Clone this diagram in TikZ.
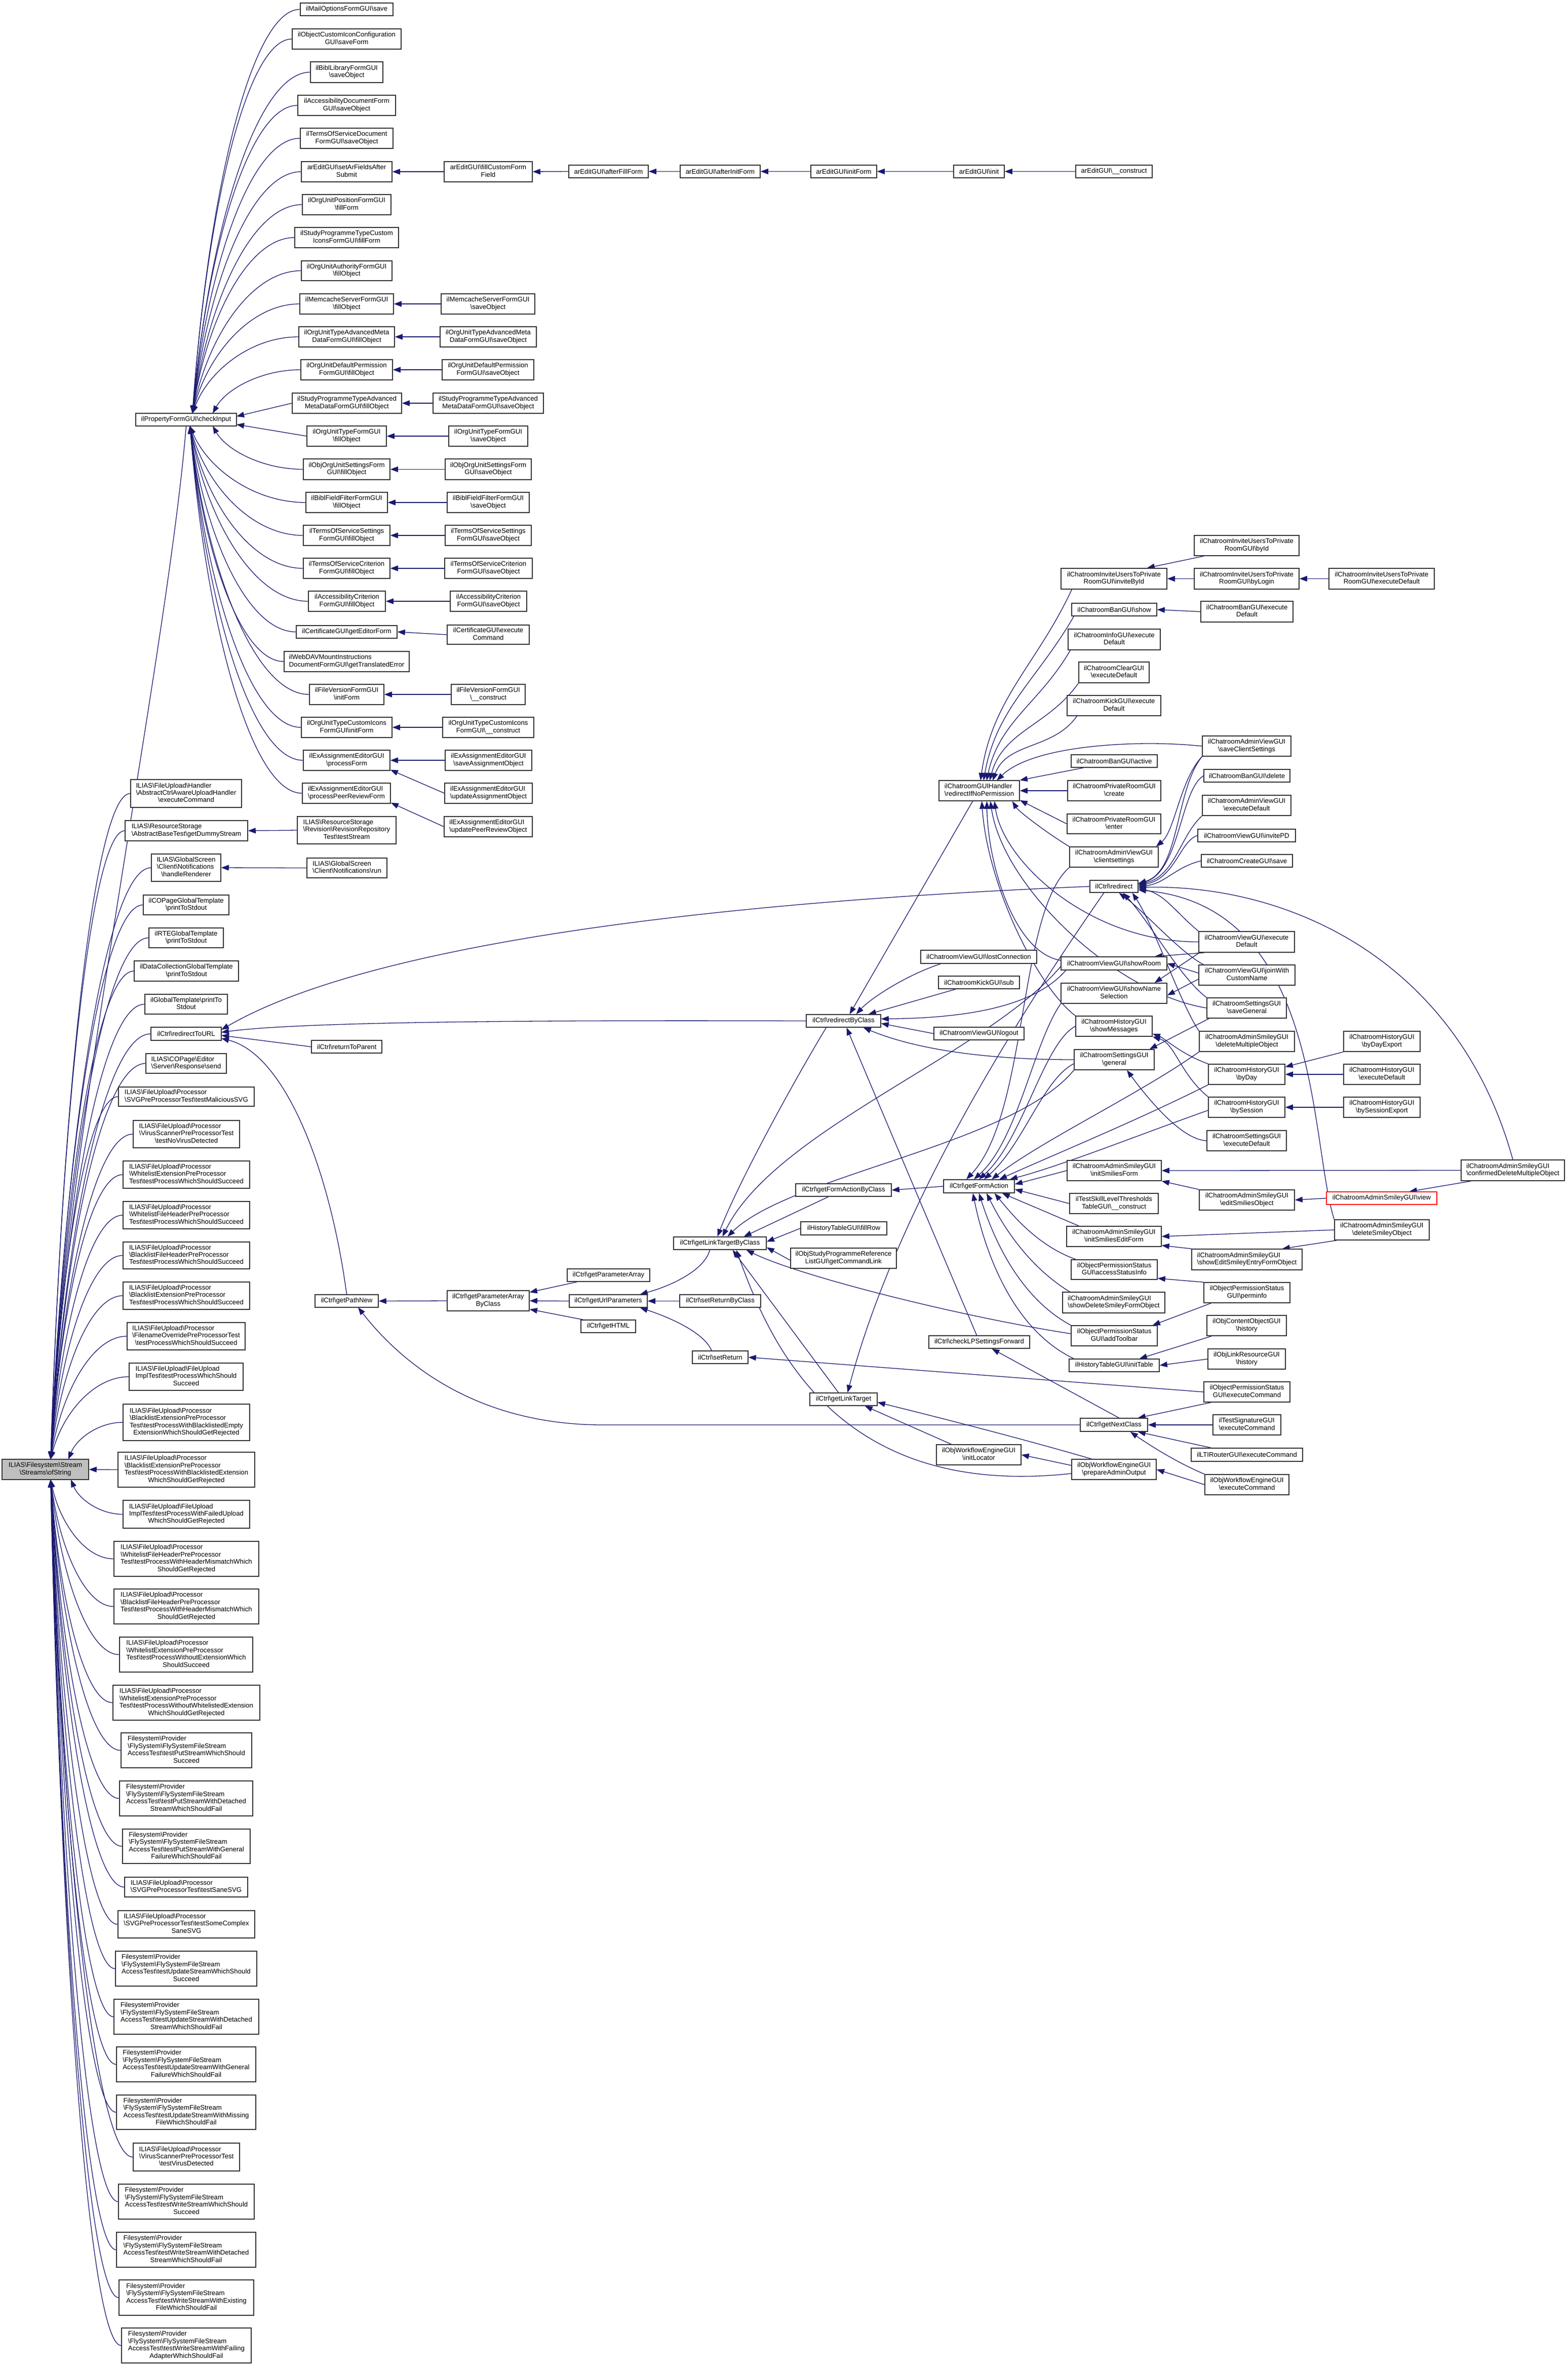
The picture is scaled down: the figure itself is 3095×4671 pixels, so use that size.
\documentclass[tikz,border=0pt]{standalone}
\usepackage{fontspec}
\setmainfont{Liberation Sans}
\usetikzlibrary{arrows.meta,calc}
\pgfdeclarelayer{bg}
\pgfsetlayers{bg,main}
\definecolor{navy}{RGB}{25,25,112}
\newcommand\bk{\textbackslash}
\newcommand\Ml[2]{\begin{tabular}{@{}l@{}}#1\\\multicolumn{1}{@{}c@{}}{#2}\end{tabular}}
\newcommand\Nd[7][]{\node[box,#1,minimum width={(#5-#3)*1pt},minimum height={(#6-#4)*1pt}] (#2) at ({(#3+#5)/2},{(#4+#6)/2}) {#7};}
\newcommand\fanE[3][]{\draw[edge,#1] let \p1=(#2), \p2=(#3) in (\p1) .. controls ({\x1-0.45*(\x1-\x2)},\y1) and ({\x2+0.15*(\x1-\x2)},{\y2+0.55*(\y1-\y2)}) .. (\p2);}
\newcommand\FUP{ILIAS\bk FileUpload\bk Processor\\\bk }
\newcommand\FSA{Filesystem\bk Provider\\\bk FlySystem\bk FlySystemFileStream\\AccessTest\bk }
\begin{document}
\begin{tikzpicture}[x=1pt,y=-1pt,
 box/.style={draw=black!80,line width=1.5pt,fill=white,inner sep=0pt,font=\fontsize{13.2}{14.4}\selectfont},
 edge/.style={draw=navy,line width=1.3pt,-{Triangle[length=15pt,width=11pt]}}]
\useasboundingbox (0,0) rectangle (3095,4671);
% ---------------- nodes ----------------
\Nd[fill=black!25]{root}{4}{2881}{175}{2921}{\Ml{ILIAS\bk Filesystem\bk Stream}{\bk Streams\bk ofString}}
\Nd{ci}{268}{816}{467}{841}{ilPropertyFormGUI\bk checkInput}
\Nd{c01}{593}{6}{776}{31}{ilMailOptionsFormGUI\bk save}
\Nd{c02}{577}{57}{792}{97}{\Ml{ilObjectCustomIconConfiguration}{GUI\bk saveForm}}
\Nd{c03}{613}{122}{756}{163}{\Ml{ilBiblLibraryFormGUI}{\bk saveObject}}
\Nd{c04}{588}{188}{781}{228}{\Ml{ilAccessibilityDocumentForm}{GUI\bk saveObject}}
\Nd{c05}{593}{253}{776}{293}{\Ml{ilTermsOfServiceDocument}{FormGUI\bk saveObject}}
\Nd{c06}{595}{319}{774}{359}{\Ml{arEditGUI\bk setArFieldsAfter}{Submit}}
\Nd{c07}{597}{384}{772}{424}{\Ml{ilOrgUnitPositionFormGUI}{\bk fillForm}}
\Nd{c08}{582}{449}{787}{489}{\Ml{ilStudyProgrammeTypeCustom}{IconsFormGUI\bk fillForm}}
\Nd{c09}{595}{515}{774}{554}{\Ml{ilOrgUnitAuthorityFormGUI}{\bk fillObject}}
\Nd{c10}{592}{580}{777}{620}{\Ml{ilMemcacheServerFormGUI}{\bk fillObject}}
\Nd{c11}{590}{645}{779}{685}{\Ml{ilOrgUnitTypeAdvancedMeta}{DataFormGUI\bk fillObject}}
\Nd{c12}{594}{710}{775}{750}{\Ml{ilOrgUnitDefaultPermission}{FormGUI\bk fillObject}}
\Nd{c13}{577}{776}{793}{816}{\Ml{ilStudyProgrammeTypeAdvanced}{MetaDataFormGUI\bk fillObject}}
\Nd{c14}{606}{841}{763}{881}{\Ml{ilOrgUnitTypeFormGUI}{\bk fillObject}}
\Nd{c15}{599}{906}{770}{947}{\Ml{ilObjOrgUnitSettingsForm}{GUI\bk fillObject}}
\Nd{c16}{604}{972}{765}{1012}{\Ml{ilBiblFieldFilterFormGUI}{\bk fillObject}}
\Nd{c17}{599}{1037}{770}{1077}{\Ml{ilTermsOfServiceSettings}{FormGUI\bk fillObject}}
\Nd{c18}{599}{1102}{770}{1142}{\Ml{ilTermsOfServiceCriterion}{FormGUI\bk fillObject}}
\Nd{c19}{609}{1167}{761}{1207}{\Ml{ilAccessibilityCriterion}{FormGUI\bk fillObject}}
\Nd{c20}{585}{1235}{784}{1260}{ilCertificateGUI\bk getEditorForm}
\Nd{c21}{561}{1286}{808}{1326}{\Ml{ilWebDAVMountInstructions}{DocumentFormGUI\bk getTranslatedError}}
\Nd{c22}{611}{1351}{758}{1391}{\Ml{ilFileVersionFormGUI}{\bk initForm}}
\Nd{c23}{595}{1416}{774}{1456}{\Ml{ilOrgUnitTypeCustomIcons}{FormGUI\bk initForm}}
\Nd{c24}{599}{1481}{770}{1521}{\Ml{ilExAssignmentEditorGUI}{\bk processForm}}
\Nd{c25}{597}{1546}{771}{1586}{\Ml{ilExAssignmentEditorGUI}{\bk processPeerReviewForm}}
\Nd{d06}{877}{319}{1051}{359}{\Ml{arEditGUI\bk fillCustomForm}{Field}}
\Nd{a1}{1123}{326}{1280}{351}{arEditGUI\bk afterFillForm}
\Nd{a2}{1343}{326}{1501}{351}{arEditGUI\bk afterInitForm}
\Nd{a3}{1601}{326}{1731}{351}{arEditGUI\bk initForm}
\Nd{a4}{1883}{326}{1983}{351}{arEditGUI\bk init}
\Nd{a5}{2124}{326}{2275}{351}{arEditGUI\bk\_\_construct}
\Nd{d10}{871}{580}{1056}{620}{\Ml{ilMemcacheServerFormGUI}{\bk saveObject}}
\Nd{d11}{869}{645}{1059}{685}{\Ml{ilOrgUnitTypeAdvancedMeta}{DataFormGUI\bk saveObject}}
\Nd{d12}{873}{710}{1054}{750}{\Ml{ilOrgUnitDefaultPermission}{FormGUI\bk saveObject}}
\Nd{d13}{855}{776}{1073}{816}{\Ml{ilStudyProgrammeTypeAdvanced}{MetaDataFormGUI\bk saveObject}}
\Nd{d14}{886}{841}{1042}{881}{\Ml{ilOrgUnitTypeFormGUI}{\bk saveObject}}
\Nd{d15}{879}{906}{1049}{947}{\Ml{ilObjOrgUnitSettingsForm}{GUI\bk saveObject}}
\Nd{d16}{883}{972}{1045}{1012}{\Ml{ilBiblFieldFilterFormGUI}{\bk saveObject}}
\Nd{d17}{879}{1037}{1049}{1077}{\Ml{ilTermsOfServiceSettings}{FormGUI\bk saveObject}}
\Nd{d18}{878}{1102}{1051}{1142}{\Ml{ilTermsOfServiceCriterion}{FormGUI\bk saveObject}}
\Nd{d19}{889}{1167}{1040}{1207}{\Ml{ilAccessibilityCriterion}{FormGUI\bk saveObject}}
\Nd{d20}{883}{1234}{1045}{1272}{\Ml{ilCertificateGUI\bk execute}{Command}}
\Nd{d22}{891}{1351}{1037}{1391}{\Ml{ilFileVersionFormGUI}{\bk\_\_construct}}
\Nd{d23}{874}{1416}{1054}{1456}{\Ml{ilOrgUnitTypeCustomIcons}{FormGUI\bk\_\_construct}}
\Nd{d24a}{879}{1481}{1050}{1521}{\Ml{ilExAssignmentEditorGUI}{\bk saveAssignmentObject}}
\Nd{d24b}{878}{1546}{1051}{1586}{\Ml{ilExAssignmentEditorGUI}{\bk updateAssignmentObject}}
\Nd{d25}{877}{1612}{1051}{1652}{\Ml{ilExAssignmentEditorGUI}{\bk updatePeerReviewObject}}
% column 2 lower
\Nd{u01}{258}{1539}{477}{1594}{\Ml{ILIAS\bk FileUpload\bk Handler\\\bk AbstractCtrlAwareUploadHandler}{\bk executeCommand}}
\Nd{u02}{247}{1620}{489}{1660}{\Ml{ILIAS\bk ResourceStorage}{\bk AbstractBaseTest\bk getDummyStream}}
\Nd{v02}{587}{1612}{782}{1666}{\Ml{ILIAS\bk ResourceStorage\\\bk Revision\bk RevisionRepository}{Test\bk testStream}}
\Nd{u03}{299}{1686}{436}{1740}{\Ml{ILIAS\bk GlobalScreen\\\bk Client\bk Notifications}{\bk handleRenderer}}
\Nd{v03}{606}{1694}{764}{1733}{\Ml{ILIAS\bk GlobalScreen}{\bk Client\bk Notifications\bk run}}
\Nd{u04}{283}{1767}{452}{1806}{\Ml{ilCOPageGlobalTemplate}{\bk printToStdout}}
\Nd{u05}{294}{1832}{441}{1871}{\Ml{ilRTEGlobalTemplate}{\bk printToStdout}}
\Nd{u06}{265}{1897}{471}{1937}{\Ml{ilDataCollectionGlobalTemplate}{\bk printToStdout}}
\Nd{u07}{286}{1963}{449}{2002}{\Ml{ilGlobalTemplate\bk printTo}{Stdout}}
\Nd{u08}{298}{2028}{437}{2054}{ilCtrl\bk redirectToURL}
\Nd{u09}{288}{2080}{447}{2119}{\Ml{ILIAS\bk COPage\bk Editor}{\bk Server\bk Response\bk send}}
\Nd{u10}{234}{2146}{502}{2184}{\Ml{ILIAS\bk FileUpload\bk Processor}{\bk SVGPreProcessorTest\bk testMaliciousSVG}}
\Nd{u11}{263}{2212}{473}{2266}{\Ml{\FUP VirusScannerPreProcessorTest}{\bk testNoVirusDetected}}
\Nd{u12}{243}{2292}{493}{2346}{\Ml{\FUP WhitelistExtensionPreProcessor}{Test\bk testProcessWhichShouldSucceed}}
\Nd{u13}{243}{2372}{493}{2426}{\Ml{\FUP WhitelistFileHeaderPreProcessor}{Test\bk testProcessWhichShouldSucceed}}
\Nd{u14}{243}{2452}{493}{2505}{\Ml{\FUP BlacklistFileHeaderPreProcessor}{Test\bk testProcessWhichShouldSucceed}}
\Nd{u15}{243}{2531}{493}{2585}{\Ml{\FUP BlacklistExtensionPreProcessor}{Test\bk testProcessWhichShouldSucceed}}
\Nd{u16}{251}{2611}{484}{2665}{\Ml{\FUP FilenameOverridePreProcessorTest}{\bk testProcessWhichShouldSucceed}}
\Nd{u17}{255}{2691}{480}{2745}{\Ml{ILIAS\bk FileUpload\bk FileUpload\\ImplTest\bk testProcessWhichShould}{Succeed}}
\Nd{u18}{243}{2772}{493}{2844}{\Ml{\FUP BlacklistExtensionPreProcessor\\Test\bk testProcessWithBlacklistedEmpty}{ExtensionWhichShouldGetRejected}}
\Nd{u19}{233}{2867}{503}{2936}{\Ml{\FUP BlacklistExtensionPreProcessor\\Test\bk testProcessWithBlacklistedExtension}{WhichShouldGetRejected}}
\Nd{u20}{243}{2962}{493}{3017}{\Ml{ILIAS\bk FileUpload\bk FileUpload\\ImplTest\bk testProcessWithFailedUpload}{WhichShouldGetRejected}}
\Nd{u21}{225}{3043}{511}{3112}{\Ml{\FUP WhitelistFileHeaderPreProcessor\\Test\bk testProcessWithHeaderMismatchWhich}{ShouldGetRejected}}
\Nd{u22}{225}{3137}{511}{3206}{\Ml{\FUP BlacklistFileHeaderPreProcessor\\Test\bk testProcessWithHeaderMismatchWhich}{ShouldGetRejected}}
\Nd{u23}{236}{3232}{499}{3301}{\Ml{\FUP WhitelistExtensionPreProcessor\\Test\bk testProcessWithoutExtensionWhich}{ShouldSucceed}}
\Nd{u24}{223}{3327}{513}{3396}{\Ml{\FUP WhitelistExtensionPreProcessor\\Test\bk testProcessWithoutWhitelistedExtension}{WhichShouldGetRejected}}
\Nd{u25}{239}{3421}{497}{3490}{\Ml{\FSA testPutStreamWhichShould}{Succeed}}
\Nd{u26}{236}{3516}{499}{3585}{\Ml{\FSA testPutStreamWithDetached}{StreamWhichShouldFail}}
\Nd{u27}{242}{3611}{494}{3679}{\Ml{\FSA testPutStreamWithGeneral}{FailureWhichShouldFail}}
\Nd{u28}{246}{3706}{489}{3745}{\Ml{ILIAS\bk FileUpload\bk Processor}{\bk SVGPreProcessorTest\bk testSaneSVG}}
\Nd{u29}{233}{3772}{503}{3826}{\Ml{\FUP SVGPreProcessorTest\bk testSomeComplex}{SaneSVG}}
\Nd{u30}{228}{3852}{507}{3921}{\Ml{\FSA testUpdateStreamWhichShould}{Succeed}}
\Nd{u31}{225}{3947}{511}{4016}{\Ml{\FSA testUpdateStreamWithDetached}{StreamWhichShouldFail}}
\Nd{u32}{230}{4041}{505}{4110}{\Ml{\FSA testUpdateStreamWithGeneral}{FailureWhichShouldFail}}
\Nd{u33}{230}{4136}{505}{4204}{\Ml{\FSA testUpdateStreamWithMissing}{FileWhichShouldFail}}
\Nd{u34}{263}{4231}{473}{4286}{\Ml{\FUP VirusScannerPreProcessorTest}{\bk testVirusDetected}}
\Nd{u35}{234}{4312}{502}{4381}{\Ml{\FSA testWriteStreamWhichShould}{Succeed}}
\Nd{u36}{230}{4407}{505}{4476}{\Ml{\FSA testWriteStreamWithDetached}{StreamWhichShouldFail}}
\Nd{u37}{235}{4501}{501}{4571}{\Ml{\FSA testWriteStreamWithExisting}{FileWhichShouldFail}}
\Nd{u38}{240}{4596}{496}{4665}{\Ml{\FSA testWriteStreamWithFailing}{AdapterWhichShouldFail}}
% ilCtrl middle
\Nd{rtp}{615}{2054}{754}{2079}{ilCtrl\bk returnToParent}
\Nd{gpn}{622}{2556}{747}{2581}{ilCtrl\bk getPathNew}
\Nd{gpabc}{883}{2548}{1045}{2588}{\Ml{ilCtrl\bk getParameterArray}{ByClass}}
\Nd{gpa}{1120}{2505}{1283}{2530}{ilCtrl\bk getParameterArray}
\Nd{gup}{1124}{2556}{1278}{2581}{ilCtrl\bk getUrlParameters}
\Nd{ghtml}{1147}{2606}{1255}{2631}{ilCtrl\bk getHTML}
\Nd{ltbc}{1330}{2442}{1513}{2467}{ilCtrl\bk getLinkTargetByClass}
\Nd{srbc}{1342}{2556}{1502}{2581}{ilCtrl\bk setReturnByClass}
\Nd{sr}{1367}{2667}{1477}{2692}{ilCtrl\bk setReturn}
\Nd{rbc}{1592}{2003}{1739}{2028}{ilCtrl\bk redirectByClass}
\Nd{gfabc}{1571}{2337}{1760}{2362}{ilCtrl\bk getFormActionByClass}
\Nd{fillrow}{1581}{2412}{1751}{2438}{ilHistoryTableGUI\bk fillRow}
\Nd{gcl}{1561}{2464}{1770}{2504}{\Ml{ilObjStudyProgrammeReference}{ListGUI\bk getCommandLink}}
\Nd{glt}{1599}{2750}{1732}{2775}{ilCtrl\bk getLinkTarget}
% column A
\Nd{gh}{1854}{1541}{2013}{1581}{\Ml{ilChatroomGUIHandler}{\bk redirectIfNoPermission}}
\Nd{lost}{1818}{1876}{2047}{1902}{ilChatroomViewGUI\bk lostConnection}
\Nd{ksub}{1853}{1927}{2013}{1952}{ilChatroomKickGUI\bk sub}
\Nd{logout}{1844}{2028}{2022}{2053}{ilChatroomViewGUI\bk logout}
\Nd{gfa}{1863}{2329}{2003}{2355}{ilCtrl\bk getFormAction}
\Nd{clp}{1834}{2637}{2033}{2662}{ilCtrl\bk checkLPSettingsForward}
\Nd{iloc}{1849}{2852}{2016}{2892}{\Ml{ilObjWorkflowEngineGUI}{\bk initLocator}}
% column B
\Nd{invid}{2095}{1122}{2304}{1163}{\Ml{ilChatroomInviteUsersToPrivate}{RoomGUI\bk inviteById}}
\Nd{banshow}{2116}{1191}{2284}{1216}{ilChatroomBanGUI\bk show}
\Nd{infoex}{2109}{1242}{2291}{1283}{\Ml{ilChatroomInfoGUI\bk execute}{Default}}
\Nd{clearex}{2130}{1307}{2269}{1348}{\Ml{ilChatroomClearGUI}{\bk executeDefault}}
\Nd{kickex}{2107}{1373}{2292}{1413}{\Ml{ilChatroomKickGUI\bk execute}{Default}}
\Nd{banact}{2115}{1490}{2285}{1515}{ilChatroomBanGUI\bk active}
\Nd{pcreate}{2108}{1541}{2292}{1581}{\Ml{ilChatroomPrivateRoomGUI}{\bk create}}
\Nd{penter}{2107}{1607}{2292}{1646}{\Ml{ilChatroomPrivateRoomGUI}{\bk enter}}
\Nd{clients}{2112}{1672}{2287}{1712}{\Ml{ilChatroomAdminViewGUI}{\bk clientsettings}}
\Nd{redir}{2152}{1738}{2247}{1762}{ilCtrl\bk redirect}
\Nd{showroom}{2095}{1889}{2304}{1915}{ilChatroomViewGUI\bk showRoom}
\Nd{showname}{2095}{1941}{2304}{1981}{\Ml{ilChatroomViewGUI\bk showName}{Selection}}
\Nd{showmsg}{2124}{2006}{2275}{2046}{\Ml{ilChatroomHistoryGUI}{\bk showMessages}}
\Nd{general}{2121}{2072}{2279}{2112}{\Ml{ilChatroomSettingsGUI}{\bk general}}
\Nd{isf}{2107}{2291}{2293}{2331}{\Ml{ilChatroomAdminSmileyGUI}{\bk initSmiliesForm}}
\Nd{tskill}{2112}{2356}{2287}{2396}{\Ml{ilTestSkillLevelThresholds}{TableGUI\bk\_\_construct}}
\Nd{isef}{2106}{2421}{2293}{2461}{\Ml{ilChatroomAdminSmileyGUI}{\bk initSmiliesEditForm}}
\Nd{asi}{2115}{2487}{2285}{2526}{\Ml{ilObjectPermissionStatus}{GUI\bk accessStatusInfo}}
\Nd{sdsf}{2098}{2551}{2300}{2592}{\Ml{ilChatroomAdminSmileyGUI}{\bk showDeleteSmileyFormObject}}
\Nd{atb}{2115}{2617}{2285}{2657}{\Ml{ilObjectPermissionStatus}{GUI\bk addToolbar}}
\Nd{itab}{2111}{2683}{2289}{2708}{ilHistoryTableGUI\bk initTable}
\Nd{gnc}{2133}{2800}{2266}{2826}{ilCtrl\bk getNextClass}
\Nd{pao}{2116}{2881}{2283}{2921}{\Ml{ilObjWorkflowEngineGUI}{\bk prepareAdminOutput}}
% column C
\Nd{byid}{2358}{1057}{2565}{1097}{\Ml{ilChatroomInviteUsersToPrivate}{RoomGUI\bk byId}}
\Nd{bylogin}{2358}{1122}{2565}{1163}{\Ml{ilChatroomInviteUsersToPrivate}{RoomGUI\bk byLogin}}
\Nd{banex}{2371}{1187}{2553}{1228}{\Ml{ilChatroomBanGUI\bk execute}{Default}}
\Nd{savecs}{2374}{1453}{2549}{1493}{\Ml{ilChatroomAdminViewGUI}{\bk saveClientSettings}}
\Nd{bandel}{2377}{1519}{2547}{1544}{ilChatroomBanGUI\bk delete}
\Nd{avex}{2374}{1570}{2549}{1610}{\Ml{ilChatroomAdminViewGUI}{\bk executeDefault}}
\Nd{invpd}{2365}{1637}{2558}{1662}{ilChatroomViewGUI\bk invitePD}
\Nd{csave}{2372}{1687}{2552}{1712}{ilChatroomCreateGUI\bk save}
\Nd{vex}{2367}{1839}{2556}{1880}{\Ml{ilChatroomViewGUI\bk execute}{Default}}
\Nd{join}{2367}{1905}{2557}{1945}{\Ml{ilChatroomViewGUI\bk joinWith}{CustomName}}
\Nd{saveg}{2383}{1970}{2540}{2010}{\Ml{ilChatroomSettingsGUI}{\bk saveGeneral}}
\Nd{delmul}{2368}{2036}{2556}{2076}{\Ml{ilChatroomAdminSmileyGUI}{\bk deleteMultipleObject}}
\Nd{byday}{2386}{2101}{2537}{2141}{\Ml{ilChatroomHistoryGUI}{\bk byDay}}
\Nd{bysess}{2386}{2166}{2537}{2206}{\Ml{ilChatroomHistoryGUI}{\bk bySession}}
\Nd{setex}{2383}{2232}{2540}{2272}{\Ml{ilChatroomSettingsGUI}{\bk executeDefault}}
\Nd{editsm}{2368}{2349}{2556}{2389}{\Ml{ilChatroomAdminSmileyGUI}{\bk editSmiliesObject}}
\Nd{sese}{2353}{2466}{2571}{2507}{\Ml{ilChatroomAdminSmileyGUI}{\bk showEditSmileyEntryFormObject}}
\Nd{perm}{2377}{2532}{2547}{2572}{\Ml{ilObjectPermissionStatus}{GUI\bk perminfo}}
\Nd{cohist}{2383}{2597}{2540}{2637}{\Ml{ilObjContentObjectGUI}{\bk history}}
\Nd{lrhist}{2385}{2663}{2538}{2703}{\Ml{ilObjLinkResourceGUI}{\bk history}}
\Nd{pex}{2377}{2728}{2547}{2768}{\Ml{ilObjectPermissionStatus}{GUI\bk executeCommand}}
\Nd{sigex}{2395}{2793}{2529}{2833}{\Ml{ilTestSignatureGUI}{\bk executeCommand}}
\Nd{ltiex}{2352}{2859}{2572}{2885}{ilLTIRouterGUI\bk executeCommand}
\Nd{wfex}{2379}{2911}{2545}{2951}{\Ml{ilObjWorkflowEngineGUI}{\bk executeCommand}}
% column D / E
\Nd{invex}{2624}{1122}{2832}{1163}{\Ml{ilChatroomInviteUsersToPrivate}{RoomGUI\bk executeDefault}}
\Nd{bdexp}{2653}{2036}{2804}{2076}{\Ml{ilChatroomHistoryGUI}{\bk byDayExport}}
\Nd{hex}{2653}{2101}{2804}{2141}{\Ml{ilChatroomHistoryGUI}{\bk executeDefault}}
\Nd{bsexp}{2653}{2166}{2804}{2206}{\Ml{ilChatroomHistoryGUI}{\bk bySessionExport}}
\Nd[draw=red,line width=1.3pt]{view}{2619}{2353}{2837}{2378}{ilChatroomAdminSmileyGUI\bk view}
\Nd{delsm}{2635}{2408}{2822}{2448}{\Ml{ilChatroomAdminSmileyGUI}{\bk deleteSmileyObject}}
\Nd{cdel}{2885}{2290}{3089}{2331}{\Ml{ilChatroomAdminSmileyGUI}{\bk confirmedDeleteMultipleObject}}
% ---------------- edges ----------------
\begin{pgfonlayer}{bg}
\fill[white] (0,0) rectangle (3095,4671);
\coordinate (rT) at (100,2881);
\coordinate (rT2) at (135,2881);
\coordinate (rB) at (100,2921);
\coordinate (rB2) at (140,2921);
\coordinate (ciT) at (380,816);
\coordinate (ciB) at (375,841);
% root fan
\draw[edge] (ci.south) .. controls (330,1300) and (120,2300) .. (rT);
\foreach \q in {u01,u02,u03,u04,u05,u06,u07,u08,u09,u10,u11,u12,u13,u14,u15,u16,u17} {\fanE{\q.west}{rT}}
\fanE{u18.west}{rT2}
\draw[edge] (u19.west) -- (root.east);
\fanE{u20.west}{rB2}
\foreach \q in {u21,u22,u23,u24,u25,u26,u27,u28,u29,u30,u31,u32,u33,u34,u35,u36,u37,u38} {\fanE{\q.west}{rB}}
% checkInput fan
\foreach \q in {c01,c02,c03,c04,c05,c06,c07,c08,c09,c10,c11} {\fanE{\q.west}{ciT}}
\fanE{c12.west}{420,816}
\draw[edge] (c13.west) -- (467,822);
\draw[edge] (c14.west) -- (467,838);
\fanE{c15.west}{420,841}
\foreach \q in {c16,c17,c18,c19,c20,c21,c22,c23,c24,c25} {\fanE{\q.west}{ciB}}
% second column pairs
\foreach \q in {10,11,12,13,14,15,16,17,18,19,20,22,23} {\draw[edge] (d\q.west) -- (c\q.east);}
\draw[edge] (d24a.west) -- (c24.east);
\draw[edge] (d24b.west) -- ([yshift=2]c24.south east);
\draw[edge] (d25.west) -- ([yshift=2]c25.south east);
\draw[edge] (d06.west) -- (c06.east);
\draw[edge] (a1.west) -- (d06.east);
\draw[edge] (a2.west) -- (a1.east);
\draw[edge] (a3.west) -- (a2.east);
\draw[edge] (a4.west) -- (a3.east);
\draw[edge] (a5.west) -- (a4.east);
\draw[edge] (v02.west) -- (u02.east);
\draw[edge] (v03.west) -- (u03.east);
% redirectToURL
\draw[edge] (redir.west) .. controls (1300,1785) and (700,1880) .. (437,2033);
\draw[edge] (rbc.west) .. controls (1100,2014) and (600,2016) .. (437,2038);
\draw[edge] (rtp.west) -- (437,2044);
\draw[edge] (gpn.north) .. controls (650,2300) and (560,2080) .. (437,2050);
% getPathNew and parameter functions
\draw[edge] (gpabc.west) -- (gpn.east);
\draw[edge] (gnc.west) -- (1190,2813) .. controls (950,2813) and (800,2700) .. (707,2581);
\draw[edge] ([xshift=20]gpa.south west) -- ([yshift=-4]gpabc.north east);
\draw[edge] (gup.west) -- (gpabc.east);
\draw[edge] ([xshift=5]ghtml.north west) -- ([yshift=4]gpabc.south east);
\draw[edge] ([xshift=-20]ltbc.south) .. controls (1390,2510) and (1320,2540) .. ([xshift=-15]gup.north east);
\draw[edge] (srbc.west) -- (gup.east);
\draw[edge] ([xshift=-17]sr.north) .. controls (1390,2630) and (1320,2600) .. ([xshift=-15]gup.south east);
\draw[edge] (pex.west) -- (sr.east);
% getLinkTargetByClass
\draw[edge] ([xshift=40]rbc.south west) .. controls (1570,2130) and (1460,2330) .. ([xshift=-5]ltbc.north);
\draw[edge] ([yshift=-6]showroom.west) .. controls (1950,2080) and (1530,2230) .. ([xshift=5]ltbc.north);
\draw[edge] (general.south west) .. controls (2000,2260) and (1560,2320) .. ([xshift=15]ltbc.north);
\draw[edge] ([xshift=-30]gfabc.south) -- ([xshift=-45]ltbc.north east);
\draw[edge] (fillrow.west) -- ([yshift=3]ltbc.east);
\draw[edge] ([yshift=-4]gcl.west) -- ([yshift=-8]ltbc.east);
\draw[edge] ([yshift=4]atb.west) .. controls (1900,2600) and (1580,2520) .. ([xshift=-40]ltbc.south east);
\draw[edge] ([xshift=-10]glt.north) -- ([xshift=25]ltbc.south);
\draw[edge] ([yshift=-8]pao.west) .. controls (1650,2960) and (1520,2650) .. ([xshift=-60]ltbc.south east);
% getFormAction
\draw[edge] (gfa.west) -- (gfabc.east);
\draw[edge] (clients.south west) .. controls (2010,1800) and (2030,2200) .. ([xshift=-25]gfa.north);
\draw[edge] (showname.south west) .. controls (2040,2060) and (2010,2250) .. ([xshift=-10]gfa.north);
\draw[edge] (showmsg.west) .. controls (2060,2060) and (2020,2250) .. (gfa.north);
\draw[edge] ([yshift=-8]general.west) .. controls (2060,2130) and (2020,2260) .. ([xshift=10]gfa.north);
\draw[edge] (delmul.south west) .. controls (2250,2160) and (2060,2250) .. ([xshift=25]gfa.north);
\draw[edge] (byday.south west) .. controls (2250,2210) and (2080,2280) .. ([xshift=40]gfa.north);
\draw[edge] ([yshift=-6]bysess.west) .. controls (2250,2240) and (2100,2300) .. ([xshift=-10]gfa.north east);
\draw[edge] (isf.west) -- ([yshift=4]gfa.east);
\draw[edge] (tskill.west) -- ([yshift=-6]gfa.east);
\draw[edge] ([xshift=25]isef.north west) -- ([xshift=-25]gfa.south east);
\draw[edge] ([xshift=10]asi.north west) .. controls (2050,2460) and (2000,2400) .. ([xshift=-40]gfa.south east);
\draw[edge] ([xshift=15]sdsf.north west) .. controls (2030,2500) and (1980,2420) .. ([xshift=15]gfa.south);
\draw[edge] (atb.north west) .. controls (2010,2560) and (1960,2440) .. (gfa.south);
\draw[edge] ([xshift=10]itab.north west) .. controls (1990,2620) and (1940,2450) .. ([xshift=-12]gfa.south);
% redirectIfNoPermission
\draw[edge] ([xshift=22]invid.south west) to[out=245,in=82] (1936,1541);
\draw[edge] ([xshift=5]banshow.south west) to[out=240,in=80] (1942,1541);
\draw[edge] ([xshift=5]infoex.south west) to[out=240,in=78] (1948,1541);
\draw[edge] (clearex.south west) to[out=235,in=75] (1954,1541);
\draw[edge] ([xshift=20]kickex.south west) to[out=235,in=70] (1960,1541);
\draw[edge] (savecs.west) .. controls (2250,1460) and (2040,1470) .. (1968,1541);
\draw[edge] ([xshift=25]banact.south west) -- (gh.north east);
\draw[edge] (pcreate.west) -- (gh.east);
\draw[edge] (penter.west) -- ([yshift=2]gh.south east);
\draw[edge] (clients.north west) .. controls (2060,1640) and (2010,1600) .. ([xshift=-15]gh.south east);
\draw[edge] (vex.west) .. controls (2150,1860) and (1980,1700) .. ([xshift=30]gh.south);
\draw[edge] ([yshift=6]showroom.west) .. controls (2000,1880) and (1950,1700) .. ([xshift=15]gh.south);
\draw[edge] (showmsg.north west) .. controls (2050,1950) and (1950,1750) .. ([xshift=5]gh.south);
\draw[edge] (saveg.west) .. controls (2200,1960) and (1980,1750) .. ([xshift=22]gh.south);
\draw[edge] ([xshift=-13]gh.south) -- ([xshift=12]rbc.north);
% redirectByClass
\draw[edge] ([xshift=40]lost.south west) .. controls (1790,1925) and (1720,1970) .. ([xshift=25]rbc.north);
\draw[edge] ([xshift=35]ksub.south west) -- ([xshift=-25]rbc.north east);
\draw[edge] (logout.west) -- ([yshift=-5]rbc.east);
\draw[edge] ([xshift=10]showroom.south west) .. controls (2040,1990) and (1900,2010) .. ([yshift=4]rbc.east);
\draw[edge] (general.west) .. controls (1900,2092) and (1780,2060) .. ([xshift=-35]rbc.south east);
\draw[edge] ([xshift=-5]clp.north) -- ([xshift=6]rbc.south);
% redirect
\draw[edge] (savecs.south west) .. controls (2320,1560) and (2330,1720) .. ([yshift=6]redir.east);
\draw[edge] (bandel.west) .. controls (2330,1560) and (2330,1720) .. ([yshift=5]redir.east);
\draw[edge] (avex.south west) .. controls (2330,1650) and (2320,1730) .. ([yshift=4]redir.east);
\draw[edge] (invpd.west) .. controls (2330,1660) and (2320,1735) .. ([yshift=2]redir.east);
\draw[edge] (csave.west) .. controls (2320,1712) and (2300,1745) .. (redir.east);
\draw[edge] (vex.north west) .. controls (2320,1800) and (2300,1765) .. ([yshift=-4]redir.east);
\draw[edge] ([xshift=10]join.north west) .. controls (2330,1880) and (2260,1800) .. ([xshift=10]redir.south);
\draw[edge] (saveg.north west) .. controls (2330,1930) and (2270,1820) .. ([xshift=18]redir.south);
\draw[edge] (delmul.north west) .. controls (2330,1980) and (2280,1830) .. ([xshift=-12]redir.south east);
\draw[edge] (cdel.north) .. controls (2880,1900) and (2550,1745) .. ([yshift=-2]redir.east);
\draw[edge] (delsm.north west) .. controls (2585,2250) and (2610,1790) .. ([yshift=-7]redir.east);
\draw[edge] ([xshift=-20]redir.south) .. controls (2050,1950) and (1780,2350) .. ([xshift=8]glt.north);
% getLinkTarget, workflow engine, getNextClass
\draw[edge] ([xshift=30]iloc.north west) -- ([xshift=-25]glt.south east);
\draw[edge] ([xshift=40]pao.north west) .. controls (2000,2835) and (1820,2790) .. ([yshift=-6]glt.east);
\draw[edge] ([yshift=8]pao.west) -- (iloc.east);
\draw[edge] (wfex.west) -- (pao.east);
\draw[edge] ([xshift=15]pex.south west) -- ([xshift=-20]gnc.north east);
\draw[edge] (sigex.west) -- (gnc.east);
\draw[edge] ([xshift=40]ltiex.north west) -- ([xshift=-20]gnc.south east);
\draw[edge] (wfex.north west) .. controls (2330,2890) and (2280,2860) .. ([xshift=-35]gnc.south east);
\draw[edge] ([xshift=10]gnc.north) -- ([xshift=25]clp.south);
% chatroom local edges
\draw[edge] ([xshift=20]byid.south west) -- ([xshift=-40]invid.north east);
\draw[edge] (bylogin.west) -- (invid.east);
\draw[edge] (invex.west) -- (bylogin.east);
\draw[edge] (banex.west) -- (banshow.east);
\draw[edge] (savecs.south west) .. controls (2330,1540) and (2320,1640) .. ([xshift=-5]clients.north east);
\draw[edge] ([xshift=12]vex.south west) -- ([xshift=-25]showroom.north east);
\draw[edge] ([xshift=2]vex.south west) -- ([xshift=-25]showname.north east);
\draw[edge] ([yshift=4]join.west) -- (showroom.east);
\draw[edge] ([yshift=-8]join.west) -- ([yshift=-4]showname.east);
\draw[edge] (byday.north west) .. controls (2330,2080) and (2300,2050) .. ([yshift=6]showmsg.south east);
\draw[edge] (bysess.north west) .. controls (2330,2120) and (2320,2060) .. (showmsg.south east);
\draw[edge] ([xshift=5]saveg.south west) -- ([xshift=-10]general.north east);
\draw[edge] (setex.west) .. controls (2330,2250) and (2260,2160) .. ([xshift=25]general.south);
\draw[edge] (bdexp.south west) -- ([yshift=-6]byday.north east);
\draw[edge] (hex.west) -- (byday.east);
\draw[edge] (bsexp.west) -- (bysess.east);
\draw[edge] (cdel.west) -- (isf.east);
\draw[edge] ([xshift=20]cdel.south west) -- ([xshift=-55]view.north east);
\draw[edge] (view.west) -- (editsm.east);
\draw[edge] (editsm.north west) -- (isf.south east);
\draw[edge] (delsm.west) -- (isef.east);
\draw[edge] ([xshift=5]delsm.south west) -- ([xshift=-40]sese.north east);
\draw[edge] (sese.north west) -- ([yshift=3]isef.south east);
\draw[edge] (perm.north west) -- ([yshift=3]asi.south east);
\draw[edge] ([xshift=15]perm.south west) -- ([xshift=-10]atb.north east);
\draw[edge] ([xshift=10]cohist.south west) -- ([xshift=-40]itab.north east);
\draw[edge] (lrhist.west) -- (itab.east);
\end{pgfonlayer}
\end{tikzpicture}
\end{document}
